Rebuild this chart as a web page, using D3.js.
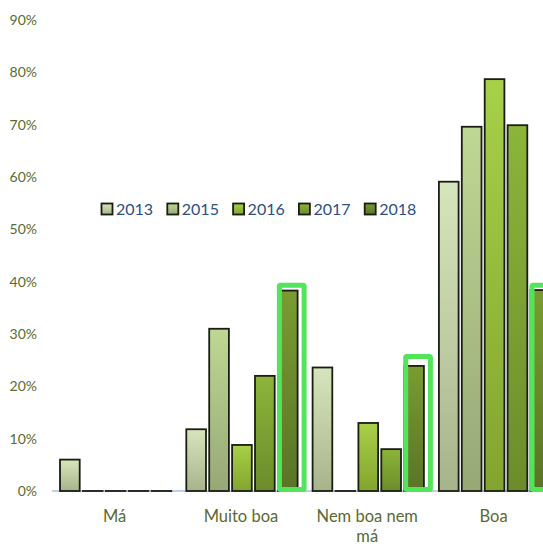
<!DOCTYPE html>
<html>
<head>
<meta charset="utf-8">
<script src="https://cdn.jsdelivr.net/npm/d3@7"></script>
<style>
  html, body { margin: 0; padding: 0; background: #fff; }
  svg { display: block; font-family: Lato, "Open Sans", sans-serif; }
</style>
</head>
<body>
<svg id="chart" width="543" height="544"></svg>
<script>
// ---- data ----
const categories = ["Má", "Muito boa", "Nem boa nem má", "Boa"];
const years = ["2013", "2015", "2016", "2017", "2018"];
const values2013 = [6.0, 11.8, 23.6, 59.1];
const values2015 = [0, 31.0, 0, 69.6];
const values2016 = [0, 8.8, 13.0, 78.7];
const values2017 = [0, 22.0, 8.0, 69.9];
const values2018 = [0, 38.3, 23.9, 38.4];
const yTicks = [0, 10, 20, 30, 40, 50, 60, 70, 80, 90];
const highlightCategories = ["Muito boa", "Nem boa nem má", "Boa"];
const highlightTops = [39.8, 26.2, 39.8];

const seriesValues = [values2013, values2015, values2016, values2017, values2018];
const gradTop = ["#d7e5bd", "#bfd794", "#a8d048", "#8cb53a", "#7a9b31"];
const gradBot = ["#a7b38b", "#97a877", "#83a42f", "#6c8c2b", "#5a7426"];

const svg = d3.select("#chart");
const defs = svg.append("defs");
years.forEach((yr, i) => {
  const g = defs.append("linearGradient").attr("id", "g" + yr)
    .attr("x1", 0).attr("y1", 0).attr("x2", 0).attr("y2", 1);
  g.append("stop").attr("offset", "0%").attr("stop-color", gradTop[i]);
  g.append("stop").attr("offset", "100%").attr("stop-color", gradBot[i]);
});

const x0 = d3.scaleBand().domain(categories).range([51.5, 556.7]).paddingInner(0).paddingOuter(0);
const x1 = d3.scaleBand().domain(years).range([8.5, x0.bandwidth() - 6.5]).paddingInner(0.14).paddingOuter(0);
const y = d3.scaleLinear().domain([0, 90]).range([491, 20]);

// y tick labels
const yAxis = d3.axisLeft(y).tickValues(yTicks).tickFormat(d => d + "%").tickSize(0).tickPadding(0);
const yg = svg.append("g").attr("transform", "translate(37,0)").call(yAxis);
yg.select(".domain").remove();
yg.selectAll("text").attr("fill", "#5a6b33").attr("font-size", "14px")
  .attr("font-family", "Lato, 'Open Sans', sans-serif");

// baseline
svg.append("line").attr("x1", 52).attr("x2", 560).attr("y1", y(0)).attr("y2", y(0))
  .attr("stroke", "#bcd0e8").attr("stroke-width", 2);

// bars
const groups = svg.selectAll("g.cat").data(categories).join("g")
  .attr("class", "cat").attr("transform", d => `translate(${x0(d)},0)`);
groups.each(function(cat, ci) {
  d3.select(this).selectAll("rect").data(years).join("rect")
    .attr("x", yr => x1(yr))
    .attr("width", x1.bandwidth())
    .attr("y", (yr, i) => y(seriesValues[i][ci]))
    .attr("height", (yr, i) => Math.max(0.01, y(0) - y(seriesValues[i][ci])))
    .attr("fill", yr => `url(#g${yr})`)
    .attr("stroke", "#1a1d14")
    .attr("stroke-width", 1.8);
});

// highlight boxes
highlightCategories.forEach((cat, i) => {
  const bx = x0(cat) + x1("2018");
  svg.append("rect")
    .attr("x", bx + 1.5)
    .attr("width", x1.bandwidth() + 5)
    .attr("y", y(highlightTops[i]) + 2.5)
    .attr("height", y(0) - y(highlightTops[i]) - 4)
    .attr("fill", "none")
    .attr("stroke", "#52e55c")
    .attr("stroke-width", 5)
    .attr("rx", 1);
});

// category labels
const xAxis = d3.axisBottom(x0).tickSize(0).tickPadding(0);
const xg = svg.append("g").attr("transform", `translate(0,${y(0)})`).call(xAxis);
xg.select(".domain").remove();
xg.selectAll("text").remove();
xg.selectAll(".tick").each(function(d) {
  const t = d3.select(this).append("text")
    .attr("fill", "#5a6a32").attr("font-size", "16.5px")
    .attr("text-anchor", "middle")
    .attr("font-family", "Lato, 'Open Sans', sans-serif");
  const lines = d === "Nem boa nem má" ? ["Nem boa nem", "má"] : [d];
  lines.forEach((ln, k) => t.append("tspan").attr("x", 0).attr("y", 31 + k * 19.5).text(ln));
});

// legend
const legend = svg.append("g").attr("transform", "translate(101,209)");
years.forEach((yr, i) => {
  const g = legend.append("g").attr("transform", `translate(${i * 65.8},0)`);
  g.append("rect").attr("x", 0.5).attr("y", -5.5).attr("width", 11).attr("height", 11)
    .attr("fill", `url(#g${yr})`).attr("stroke", "#1a1d14").attr("stroke-width", 1.8);
  g.append("text").attr("x", 15).attr("y", 6).text(yr)
    .attr("fill", "#2b4f82").attr("font-size", "16px");
});
</script>
</body>
</html>
